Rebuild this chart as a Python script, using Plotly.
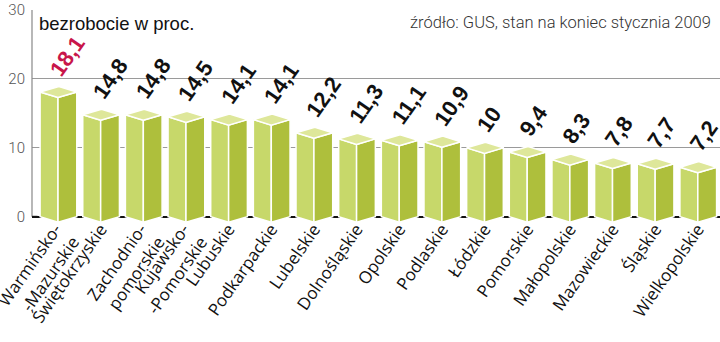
import plotly.graph_objects as go

regions = ["Warmińsko-<br>-Mazurskie", "Świętokrzyskie", "Zachodnio-<br>pomorskie",
           "Kujawsko-<br>-Pomorskie", "Lubuskie", "Podkarpackie", "Lubelskie",
           "Dolnośląskie", "Opolskie", "Podlaskie", "Łódzkie", "Pomorskie",
           "Małopolskie", "Mazowieckie", "Śląskie", "Wielkopolskie"]
values = [18.1, 14.8, 14.8, 14.5, 14.1, 14.1, 12.2, 11.3, 11.1, 10.9, 10.0, 9.4,
          8.3, 7.8, 7.7, 7.2]
labels = ["18,1", "14,8", "14,8", "14,5", "14,1", "14,1", "12,2", "11,3", "11,1",
          "10,9", "10", "9,4", "8,3", "7,8", "7,7", "7,2"]
y_ticks = [0, 10, 20, 30]

# style constants for pseudo-3D columns (data units)
WL, WR, D = 0.42, 0.44, 0.8
C_LEFT, C_RIGHT, C_TOP = "#c7d86a", "#aebf3c", "#dee79a"

xs = list(range(len(values)))

def polys(kind):
    px, py = [], []
    for i, v in zip(xs, values):
        if kind == "left":
            pts = [(i - WL, v), (i, v - D), (i, -D), (i - WL, 0)]
        elif kind == "right":
            pts = [(i, v - D), (i + WR, v), (i + WR, 0), (i, -D)]
        else:
            pts = [(i - WL, v), (i, v - D), (i + WR, v), (i + WR - WL, v + D)]
        pts = pts + [pts[0]]
        px += [p[0] for p in pts] + [None]
        py += [p[1] for p in pts] + [None]
    return px, py

fig = go.Figure()
for kind, col in [("left", C_LEFT), ("right", C_RIGHT), ("top", C_TOP)]:
    px, py = polys(kind)
    fig.add_trace(go.Scatter(x=px, y=py, mode="lines", fill="toself", fillcolor=col,
                             line=dict(color="white", width=1.5), hoverinfo="skip",
                             showlegend=False))
# empty trace so the overlaying label axis is drawn
fig.add_trace(go.Scatter(x=[None], y=[None], xaxis="x2", yaxis="y", mode="markers",
                         showlegend=False, hoverinfo="skip"))

for i, (v, t) in enumerate(zip(values, labels)):
    fig.add_annotation(x=i, y=v, xref="x", yref="y", text="<b>" + t + "</b>",
                       showarrow=False, textangle=-55, xanchor="left", yanchor="bottom",
                       xshift=-14, yshift=10, borderpad=0,
                       font=dict(family="Liberation Sans", size=22,
                                 color="#c8164a" if i == 0 else "#111111"))

fig.add_annotation(xref="paper", yref="paper", x=0.007, y=1, xanchor="left", yanchor="top",
                   yshift=-1, text="bezrobocie w proc.", showarrow=False,
                   font=dict(family="Liberation Sans", size=18.5, color="#111111"))
fig.add_annotation(xref="paper", yref="paper", x=0.99, y=1, xanchor="right", yanchor="top",
                   yshift=-1, text="źródło: GUS, stan na koniec stycznia 2009", showarrow=False,
                   font=dict(family="Roboto", size=16.5, color="#333333", weight=300))

fig.add_shape(type="line", xref="paper", yref="y", x0=0, x1=0, y0=0, y1=30,
              line=dict(color="#888888", width=1.2))
fig.add_shape(type="line", xref="paper", yref="y", x0=0, x1=0.008, y0=0, y1=0,
              line=dict(color="#111111", width=2))

LBL_FONT = dict(family="Open Sans", size=17, color="#111111")
single_idx = [i for i, r in enumerate(regions) if "<br>" not in r]
multi_idx = [i for i, r in enumerate(regions) if "<br>" in r]
XR = [-0.61, 15.52]

fig.update_layout(
    width=720, height=342, margin=dict(l=32, r=0, t=10, b=119),
    plot_bgcolor="white", paper_bgcolor="white",
    xaxis=dict(range=XR, tickvals=single_idx, ticktext=[regions[i] for i in single_idx],
               tickangle=-55, showgrid=False, zeroline=False, showline=False, ticks="",
               ticklabeloverflow="allow", ticklabelstandoff=-8, automargin=False,
               tickfont=LBL_FONT),
    xaxis2=dict(range=XR, overlaying="x", anchor="y", side="bottom",
                tickvals=multi_idx, ticktext=[regions[i] for i in multi_idx],
                tickangle=-55, showgrid=False, zeroline=False, showline=False, ticks="",
                ticklabeloverflow="allow", ticklabelstandoff=-8, ticklabelshift=-3,
                automargin=False, tickfont=LBL_FONT),
    yaxis=dict(range=[-0.9, 30], tickvals=y_ticks, showgrid=True, gridcolor="#9a9a9a",
               gridwidth=1, zeroline=True, zerolinecolor="#111111", zerolinewidth=1.5,
               showline=False, ticks="", ticklabelstandoff=6, automargin=False,
               tickfont=dict(family="Roboto", size=15, color="#555555", weight=300)),
)

fig.write_html("out.html")
